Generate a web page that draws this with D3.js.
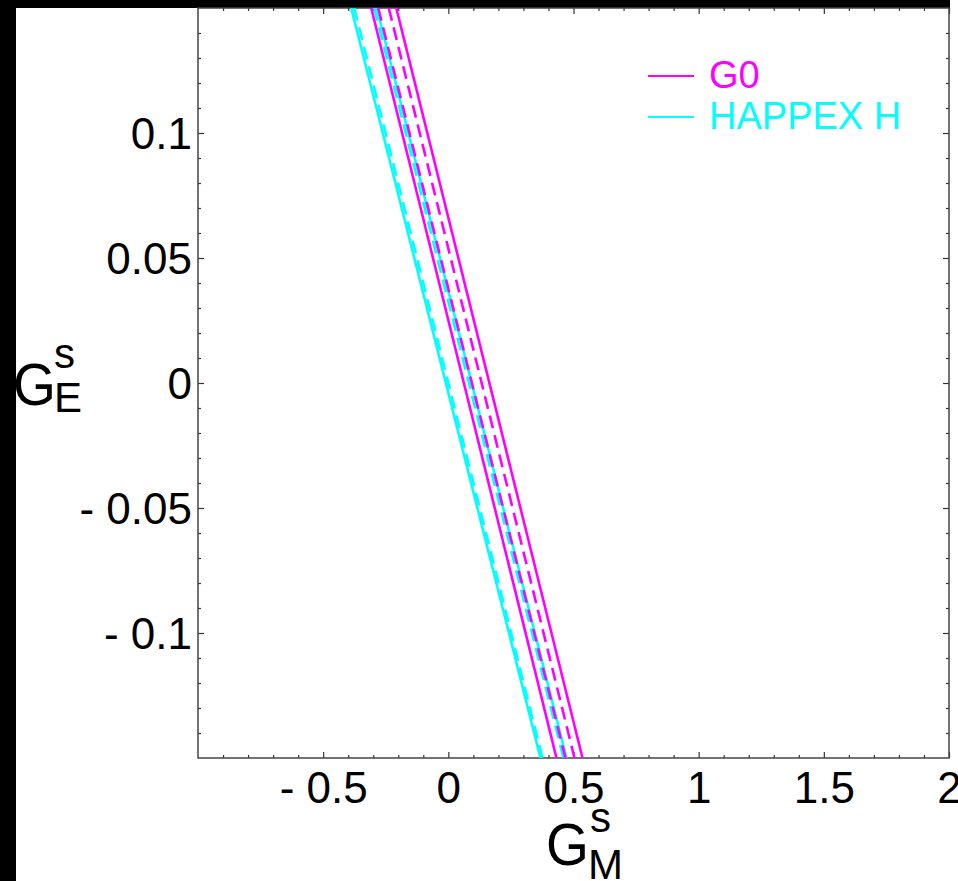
<!DOCTYPE html>
<html>
<head>
<meta charset="utf-8">
<script src="https://cdn.jsdelivr.net/npm/d3@7"></script>
<style>
  html, body { margin: 0; padding: 0; background: #fff; }
  svg { display: block; font-family: "Liberation Sans", Arial, sans-serif; }
</style>
</head>
<body>
<div id="chart"></div>
<script>
// tick values of the two axes
const gmTicks = [-0.5, 0, 0.5, 1, 1.5, 2];
const geTicks = [-0.1, -0.05, 0, 0.05, 0.1];

// series names for the legend
const seriesNames = ["G0", "HAPPEX H"];
const seriesColors = ["#ff00ff", "#00ffff"];

// every line: [G_M^s at G_E^s = +0.15, G_M^s at G_E^s = -0.15]
const geEnds = [0.15, -0.15];
const g0Solid      = [[-0.308, 0.432], [-0.208, 0.536]];
const g0Dashed     = [[-0.280, 0.468], [-0.238, 0.504]];
const happexSolid  = [[-0.388, 0.368], [-0.286, 0.472]];
const happexDashed = [[-0.376, 0.376], [-0.296, 0.460]];

function fmt(d) {
  // "- 0.5" like the original, with a gap after the minus
  return d < 0 ? "- " + String(Math.abs(d)) : String(d);
}

function drawChart({ selector, width = 958, height = 881 }) {
  d3.select(selector).selectAll("svg").remove();

  const left = 198, right = 949, top = 8, bottom = 758;

  const svg = d3.select(selector).append("svg")
    .attr("width", width)
    .attr("height", height);

  // black strips at the left and top edge
  svg.append("rect").attr("x", 0).attr("y", 0).attr("width", width).attr("height", height).attr("fill", "#fff");
  svg.append("rect").attr("x", 0).attr("y", 0).attr("width", 16).attr("height", height).attr("fill", "#000");
  svg.append("rect").attr("x", 0).attr("y", 0).attr("width", right + 1).attr("height", top).attr("fill", "#000");

  const x = d3.scaleLinear().domain([-1, 2]).range([left, right]);
  const y = d3.scaleLinear().domain([-0.15, 0.15]).range([bottom, top]);

  const minorX = d3.range(-10, 21).map(i => i / 10).filter(v => !gmTicks.includes(v) && v > -1 && v < 2);
  const minorY = d3.range(-15, 16).map(i => i / 100).filter(v => !geTicks.some(t => Math.abs(t - v) < 1e-9) && Math.abs(v) < 0.15);

  // axes: major ticks with labels, minor ticks without, all pointing inward
  const axes = [
    { ax: d3.axisBottom, sc: x, tr: `translate(0,${bottom})`, labels: true, major: gmTicks, minor: minorX },
    { ax: d3.axisTop,    sc: x, tr: `translate(0,${top})`,    labels: false, major: gmTicks, minor: minorX },
    { ax: d3.axisLeft,   sc: y, tr: `translate(${left},0)`,   labels: true, major: geTicks, minor: minorY },
    { ax: d3.axisRight,  sc: y, tr: `translate(${right},0)`,  labels: false, major: geTicks, minor: minorY }
  ];

  axes.forEach(a => {
    svg.append("g")
      .attr("transform", a.tr)
      .call(a.ax(a.sc).tickValues(a.minor).tickSize(-3).tickFormat(""))
      .call(g => g.select(".domain").remove())
      .selectAll("line").attr("stroke", "#333").attr("stroke-width", 1.2);

    const g = svg.append("g")
      .attr("class", "major")
      .attr("transform", a.tr)
      .call(a.ax(a.sc).tickValues(a.major).tickSize(-6).tickPadding(0).tickFormat(a.labels ? fmt : ""));
    g.select(".domain").remove();
    g.selectAll("line").attr("stroke", "#333").attr("stroke-width", 1.2);
    g.selectAll("text")
      .attr("fill", "#000")
      .style("font-size", "44px")
      .style("font-family", "'Liberation Sans', Arial, sans-serif");
  });

  // label placement
  svg.selectAll(".major text").attr("dy", null);
  svg.selectAll("g.major").filter((d, i) => i === 0).selectAll("text")
    .attr("y", 45).attr("text-anchor", "middle");
  svg.selectAll("g.major").filter((d, i) => i === 2).selectAll("text")
    .attr("x", -6).attr("y", 15).attr("text-anchor", "end");

  // frame
  svg.append("rect")
    .attr("x", left).attr("y", top)
    .attr("width", right - left).attr("height", bottom - top)
    .attr("fill", "none").attr("stroke", "#444").attr("stroke-width", 1.5);

  // lines, clipped to the frame
  svg.append("clipPath").attr("id", "plot-clip")
    .append("rect").attr("x", left).attr("y", top)
    .attr("width", right - left).attr("height", bottom - top);

  const plot = svg.append("g").attr("clip-path", "url(#plot-clip)");
  const line = d3.line().x(d => x(d[0])).y(d => y(d[1]));

  const groups = [
    { lines: happexDashed, color: seriesColors[1], dash: "13,7" },
    { lines: happexSolid,  color: seriesColors[1], dash: null },
    { lines: g0Solid,      color: seriesColors[0], dash: null },
    { lines: g0Dashed,     color: seriesColors[0], dash: "13,7" }
  ];

  groups.forEach(grp => {
    plot.selectAll(null)
      .data(grp.lines)
      .enter()
      .append("path")
        .attr("d", d => line([[d[0], geEnds[0]], [d[1], geEnds[1]]]))
        .attr("fill", "none")
        .attr("stroke", grp.color)
        .attr("stroke-width", 2.6)
        .attr("stroke-dasharray", grp.dash);
  });

  // legend
  const legend = svg.append("g");
  seriesNames.forEach((name, i) => {
    const ly = 76 + i * 41;
    legend.append("line")
      .attr("x1", 648).attr("x2", 694).attr("y1", ly).attr("y2", ly)
      .attr("stroke", seriesColors[i]).attr("stroke-width", 2);
    legend.append("text")
      .attr("x", 709).attr("y", ly + 12)
      .attr("fill", seriesColors[i])
      .style("font-size", "38px")
      .text(name);
  });

  // axis titles
  const ty = svg.append("g");
  ty.append("text").attr("x", 13).attr("y", 405).style("font-size", "60px")
    .attr("transform", "translate(13,0) scale(0.92,1) translate(-13,0)").text("G");
  ty.append("text").attr("x", 54).attr("y", 368).style("font-size", "42px").text("s");
  ty.append("text").attr("x", 54).attr("y", 412).style("font-size", "42px").text("E");

  const tx = svg.append("g");
  tx.append("text").attr("x", 546).attr("y", 865).style("font-size", "60px")
    .attr("transform", "translate(546,0) scale(0.92,1) translate(-546,0)").text("G");
  tx.append("text").attr("x", 590).attr("y", 832).style("font-size", "42px").text("s");
  tx.append("text").attr("x", 588).attr("y", 879).style("font-size", "42px").text("M");
}

drawChart({ selector: "#chart" });
</script>
</body>
</html>
